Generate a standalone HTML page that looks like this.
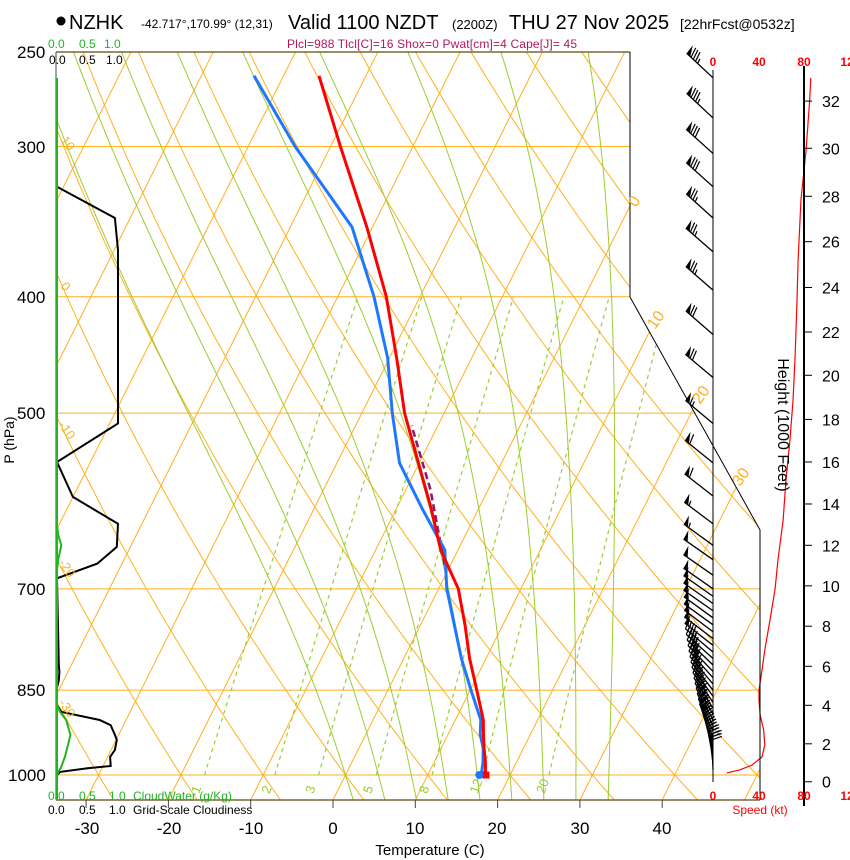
<!DOCTYPE html>
<html><head><meta charset="utf-8">
<style>
body{margin:0;width:850px;height:860px;background:#fff;overflow:hidden}
svg{display:block;font-family:"Liberation Sans",Arial,sans-serif}
</style></head>
<body>
<svg id="chart" width="850" height="860" viewBox="0 0 850 860">
<defs><clipPath id="plotclip"><polygon points="56,52 630,52 630,297 760,530 760,800 56,800"/></clipPath></defs>
<g id="grid" clip-path="url(#plotclip)"></g>
<g id="mrlabels"></g>
<g id="cloud"></g>
<g id="wind"></g>
<g id="prof"></g>
<g id="frame">
  <line x1="56" y1="52" x2="630" y2="52" stroke="#5b4a14" stroke-width="1.2"/>
  <line x1="56" y1="800" x2="760" y2="800" stroke="#5b4a14" stroke-width="1.2"/>
  <line x1="56" y1="52" x2="56" y2="800" stroke="#444" stroke-width="1"/>
  <polyline points="630,52 630,297 760,530 760,800" fill="none" stroke="#000" stroke-width="1"/>
  <line x1="57" y1="78" x2="57" y2="800" stroke="#22b422" stroke-width="2"/>
  <line x1="713" y1="70" x2="713" y2="782" stroke="#000" stroke-width="1"/>
  <line x1="804" y1="66" x2="804" y2="806" stroke="#000" stroke-width="2"/>
</g>
<g id="texts">
  <circle cx="61" cy="21" r="4.5" fill="#000"/>
  <text x="69" y="29" font-size="20">NZHK</text>
  <text x="141" y="28" font-size="12">-42.717°,170.99° (12,31)</text>
  <text x="288" y="29" font-size="20">Valid 1100 NZDT</text>
  <text x="452" y="29" font-size="13">(2200Z)</text>
  <text x="509" y="29" font-size="20">THU 27 Nov 2025</text>
  <text x="680" y="29" font-size="14">[22hrFcst@0532z]</text>
  <text x="287" y="48" font-size="12" fill="#b0185c" textLength="290">Plcl=988 Tlcl[C]=16 Shox=0 Pwat[cm]=4 Cape[J]= 45</text>

  <g font-size="12" fill="#22b422">
    <text x="48" y="48">0.0</text><text x="79" y="48">0.5</text><text x="104" y="48">1.0</text>
  </g>
  <g font-size="12" fill="#000">
    <text x="49" y="64">0.0</text><text x="79" y="64">0.5</text><text x="106" y="64">1.0</text>
  </g>
  <g font-size="12" fill="#22b422">
    <text x="48" y="800">0.0</text><text x="79" y="800">0.5</text><text x="109" y="800">1.0</text>
    <text x="133" y="800">CloudWater (g/Kg)</text>
  </g>
  <g font-size="12" fill="#000">
    <text x="48" y="814">0.0</text><text x="79" y="814">0.5</text><text x="109" y="814">1.0</text>
    <text x="133" y="814">Grid-Scale Cloudiness</text>
  </g>

  <g font-size="17" fill="#000">
    <text x="17" y="58">250</text><text x="17" y="153">300</text><text x="17" y="303">400</text>
    <text x="17" y="419">500</text><text x="17" y="595">700</text><text x="17" y="696">850</text>
    <text x="8" y="781">1000</text>
  </g>
  <text transform="translate(14,440) rotate(-90)" text-anchor="middle" font-size="14">P (hPa)</text>
  <g font-size="17" fill="#000" text-anchor="middle">
    <text x="87" y="834">-30</text><text x="169" y="834">-20</text><text x="251" y="834">-10</text>
    <text x="333" y="834">0</text><text x="415" y="834">10</text><text x="497" y="834">20</text>
    <text x="580" y="834">30</text><text x="662" y="834">40</text>
  </g>
  <text x="430" y="855" font-size="15" text-anchor="middle">Temperature (C)</text>

  <g font-size="16" fill="#ffb01e">
    <text transform="translate(636,208) rotate(-55)">0</text>
    <text transform="translate(655,330) rotate(-55)">10</text>
    <text transform="translate(700,405) rotate(-55)">20</text>
    <text transform="translate(740,487) rotate(-55)">30</text>
  </g>
  <g font-size="13" fill="#ffb01e">
    <text transform="translate(60,140) rotate(55)">10</text>
    <text transform="translate(60,286) rotate(55)">0</text>
    <text transform="translate(58,425) rotate(55)">-10</text>
    <text transform="translate(58,563) rotate(55)">-20</text>
    <text transform="translate(58,703) rotate(55)">-30</text>
  </g>

  <g font-size="12" font-weight="bold" fill="#ff0000" text-anchor="middle">
    <text x="713" y="66">0</text><text x="759" y="66">40</text><text x="804" y="66">80</text><text x="847" y="66">12</text>
  </g>
  <g font-size="12" font-weight="bold" fill="#ff0000" text-anchor="middle">
    <text x="713" y="800">0</text><text x="759" y="800">40</text><text x="804" y="800">80</text><text x="847" y="800">12</text>
  </g>
  <text x="760" y="814" font-size="12" fill="#ff0000" text-anchor="middle">Speed (kt)</text>
  <text transform="translate(778,425) rotate(90)" text-anchor="middle" font-size="16">Height (1000 Feet)</text>
  <g id="hticks" font-size="16" fill="#000"></g>
</g>
</svg>
<script>
// ---- data ----
const profP = [1000,975,950,925,900,850,800,750,700,650,600,550,500,450,400,350,300,262];
const tempC = [17.0,16.2,15.2,14.3,13.4,10.8,8.0,5.4,2.4,-2.1,-5.8,-10.1,-14.8,-19.1,-24.1,-30.7,-38.8,-45.7];
const dewC  = [16.5,15.9,15.1,13.9,13.1,10.1,7.0,4.1,1.0,-1.6,-6.9,-12.4,-16.3,-20.2,-25.6,-32.5,-44.3,-53.6];
const parcelP = [669,579,512];
const parcelT = [-0.7,-7.0,-13.2];
const mixRatios = [1,2,3,5,8,12,20];
const moistThetaW = [0,4,8,12,16,20,24,28,32];
const dryTheta = [-60,-50,-40,-30,-20,-10,0,10,20,30,40,50,60,70,80,90,100,110,120,130,140,150,160,170,180,190,200];
const isoT = [-120,-110,-100,-90,-80,-70,-60,-50,-40,-30,-20,-10,0,10,20,30,40,50];
const isobars = [300,400,500,700,850,1000];
const tickT = [-30,-20,-10,0,10,20,30,40];
const cloudP = [324,344,366,510,549,587,618,646,667,686,810,821,834,846,875,886,900,909,926,935,953,966,983,987,994,1000];
const cloudFrac = [0,0.95,1.0,1.0,0,0.26,1.0,0.98,0.66,0,0.03,0.04,0.03,0,0,0.07,0.7,0.88,0.95,0.98,0.95,0.87,0.88,0.5,0.05,0];
const cwP = [620,631,644,662,675,875,886,900,926,944,966,987,994,1000];
const cwVal = [0,0.02,0.07,0.02,0,0,0.05,0.15,0.22,0.18,0.13,0.06,0.02,0];
const speedP = [996,990,981,966,944,917,891,866,850,818,787,743,700,662,614,568,526,488,451,403,373,332,302,275,263];
const speedKt = [12,23.5,34,42.6,45,44,41,40,40,42.6,45,49.6,54,56.5,61,63.5,67,69.6,71.3,73,74,76.5,81,84,85];
const barbP = [263,284,304,324,344,367,395,430,467,510,550,586,618,644,662,682,700,710,720,730,740,750,760,770,780,790,800,810,820,830,840,850,860,870,880,890,900,910,920,930,940,950,960,970,980,990];
const barbS = [85,83,81,78,76,74,73,71,69,66,62,58,55,53,52,52,52,52,51,51,50,50,50,50,48,47,46,45,43,42,41,40,40,40,40,40,41,42,43,44,45,45,45,44,40,32];
const barbD = [313,313,312,312,312,311,311,311,310,310,309,308,307,306,305,305,305,305,305,305,306,306,307,307,308,310,312,314,316,318,320,322,324,326,328,330,332,334,336,338,341,344,347,350,354,358];
const heightKft = [0,2,4,6,8,10,12,14,16,18,20,22,24,26,28,30,32];
const heightP = [1013,942,875,812,752,696,644,595,549,506,465,428,393,360,330,301,275];

// ---- axes ----
const Y0=775, PS=522, X0=333, XS=8.23, SK=0.5;
function yP(p){return Y0+PS*Math.log(p/1000);}
function xT(T,p){return X0+XS*T+SK*(800-yP(p));}
function xS(s){return 713+s*46/40;}
function xC(f){return 57+f*61;}
const NS='http://www.w3.org/2000/svg';
function mk(parent,tag,attrs){const e=document.createElementNS(NS,tag);for(const k in attrs)e.setAttribute(k,attrs[k]);parent.appendChild(e);return e;}
function pts(arr){return arr.map(a=>a[0].toFixed(1)+','+a[1].toFixed(1)).join(' ');}
const grid=document.getElementById('grid');
const mrl=document.getElementById('mrlabels');
const ORANGE='#ffb01e', GREEN='#9acd32';

isobars.forEach(p=>{
  const y=yP(p);
  const e=mk(grid,'line',{x1:56,y1:y,x2:760,y2:y,stroke:ORANGE,'stroke-width':1});
  
  
});
isoT.forEach(T=>{
  const e=mk(grid,'line',{x1:xT(T,1049),y1:yP(1049),x2:xT(T,240),y2:yP(240),stroke:ORANGE,'stroke-width':1});
  
  
});
dryTheta.forEach(th=>{
  const a=[];
  for(let p=1055;p>=240;p-=10){const T=(th+273.15)*Math.pow(p/1000,0.2857)-273.15;a.push([xT(T,p),yP(p)]);}
  const e=mk(grid,'polyline',{points:pts(a),fill:'none',stroke:ORANGE,'stroke-width':1});
  
  
});
function es(T){return 6.112*Math.exp(17.67*T/(T+243.5));}
function dTdp(T,p){const Tk=T+273.15,r=0.622*es(T)/(p-es(T)),Lv=2.5e6,Rd=287,cp=1005;
  return (Rd*Tk+Lv*r)/(p*(cp+Lv*Lv*r*0.622/(Rd*Tk*Tk)));}
moistThetaW.forEach(tw=>{
  let T=tw,a=[];
  let Td=tw; const lower=[];
  for(let p=1000;p<=1055;p+=5){lower.push([xT(Td,p),yP(p)]);Td+=dTdp(Td,p)*5;}
  for(let p=1000;p>=245;p-=5){a.push([xT(T,p),yP(p)]);T-=dTdp(T,p)*5;}
  const all=lower.reverse().concat(a);
  const e=mk(grid,'polyline',{points:pts(all),fill:'none',stroke:GREEN,'stroke-width':1});
  
  
});
function tdFromW(w,p){const e=w*p/(622+w);const l=Math.log(e/6.112);return 243.5*l/(17.67-l);}
mixRatios.forEach(w=>{
  const a=[];
  for(let p=1000;p>=400;p-=10)a.push([xT(tdFromW(w,p),p),yP(p)]);
  const e=mk(grid,'polyline',{points:pts(a),fill:'none',stroke:GREEN,'stroke-width':1.2,'stroke-dasharray':'4,4'});
  
  
  const lx=xT(tdFromW(w,1022),1022), ly=yP(1022);
  const t=mk(mrl,'text',{transform:'translate('+(lx-2).toFixed(1)+','+(ly+8).toFixed(1)+') rotate(-70)','font-size':13,fill:GREEN});
  t.textContent=String(w);
  
  
});

const frame=document.getElementById('frame');
tickT.forEach(T=>{
  const x=X0+XS*T;
  const e=mk(frame,'line',{x1:x,y1:800,x2:x,y2:808,stroke:'#444','stroke-width':1});
  
  
});

const cloud=document.getElementById('cloud');
{
  const a=cloudP.map((p,i)=>[xC(cloudFrac[i]),yP(p)]);
  const e=mk(cloud,'polyline',{points:pts(a),fill:'none',stroke:'#000','stroke-width':2});
  
  
  const b=cwP.map((p,i)=>[xC(cwVal[i]),yP(p)]);
  const g=mk(cloud,'polyline',{points:pts(b),fill:'none',stroke:'#22b422','stroke-width':2});
  
  
}

const prof=document.getElementById('prof');
{
  const pa=parcelP.map((p,i)=>[xT(parcelT[i],p),yP(p)]);
  const pl=mk(prof,'polyline',{points:pts(pa),fill:'none',stroke:'#8b1a6b','stroke-width':2.5,'stroke-dasharray':'7,4'});
  
  
  const da=profP.map((p,i)=>[xT(dewC[i],p),yP(p)]);
  const dl=mk(prof,'polyline',{points:pts(da),fill:'none',stroke:'#1e78ff','stroke-width':3,'stroke-linejoin':'round'});
  
  
  const ta=profP.map((p,i)=>[xT(tempC[i],p),yP(p)]);
  const tl=mk(prof,'polyline',{points:pts(ta),fill:'none',stroke:'#ff0000','stroke-width':3,'stroke-linejoin':'round'});
  
  
  const sq=mk(prof,'rect',{x:xT(tempC[0],1000)-3,y:yP(1000)-3.5,width:7,height:7,fill:'#ff0000'});
  
  
  const dc=mk(prof,'circle',{cx:xT(dewC[0],1000)-2,cy:yP(1000),r:4,fill:'#1e78ff'});
  
  
}

const wind=document.getElementById('wind');
{
  const sa=speedP.map((p,i)=>[xS(speedKt[i]),yP(p)]);
  const sl=mk(wind,'polyline',{points:pts(sa),fill:'none',stroke:'#ff0000','stroke-width':1.2});
  
  
  barbP.forEach((p,i)=>{
    const bx=713, by=yP(p), d=barbD[i]*Math.PI/180;
    const ux=Math.sin(d), uy=-Math.cos(d), L=36;
    const tx=bx+ux*L, ty=by+uy*L;
    const nx=-uy, ny=ux;
    const g=mk(wind,'g',{});
    
    
    mk(g,'line',{x1:bx,y1:by,x2:tx,y2:ty,stroke:'#000','stroke-width':1.3});
    let s=Math.round(barbS[i]/5)*5, pos=0;
    while(s>=50){
      const ax=tx-ux*pos, ay=ty-uy*pos;
      mk(g,'polygon',{points:pts([[ax,ay],[ax-ux*5,ay-uy*5],[ax+nx*10+ux*1,ay+ny*10+uy*1]]),fill:'#000'});
      s-=50; pos+=6;
    }
    while(s>=10){
      const ax=tx-ux*pos, ay=ty-uy*pos;
      mk(g,'line',{x1:ax,y1:ay,x2:ax+nx*10+ux*3,y2:ay+ny*10+uy*3,stroke:'#000','stroke-width':1.2});
      s-=10; pos+=3;
    }
    if(s>=5){
      const ax=tx-ux*pos, ay=ty-uy*pos;
      mk(g,'line',{x1:ax,y1:ay,x2:ax+nx*5+ux*1.5,y2:ay+ny*5+uy*1.5,stroke:'#000','stroke-width':1.2});
    }
  });
}

const ht=document.getElementById('hticks');
heightKft.forEach((h,i)=>{
  const y=yP(heightP[i]);
  const l=mk(ht,'line',{x1:804,y1:y,x2:812,y2:y,stroke:'#000','stroke-width':1});
  
  
  const t=mk(ht,'text',{x:822,y:y+6});
  t.textContent=String(h);
  
  
});
</script>
</body></html>
